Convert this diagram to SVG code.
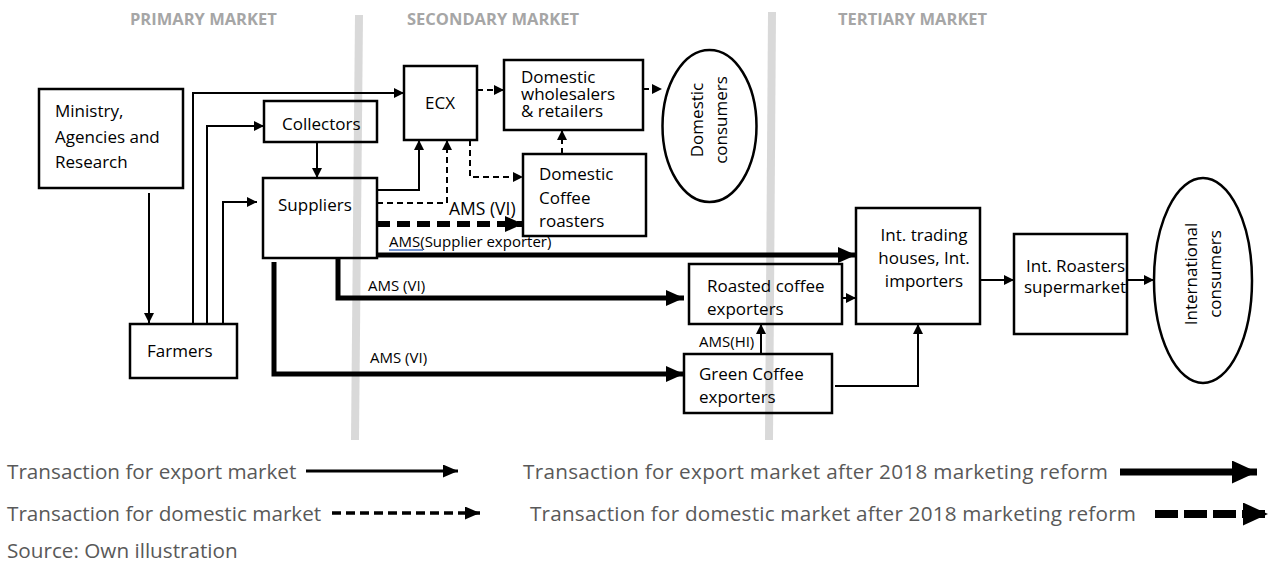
<svg xmlns="http://www.w3.org/2000/svg" width="1283" height="573" viewBox="0 0 1283 573">
<style>
text{font-family:"Open Sans","Noto Sans","Liberation Sans",sans-serif;fill:#000}
.n{font-size:17px}
.s{font-size:15px}
.h{font-size:16.5px;font-weight:bold;fill:#a6a6a6}
.lg{font-size:20.7px;fill:#595959}
.box{fill:none;stroke:#000;stroke-width:2.5}
.c{fill:none;stroke:#000;stroke-width:2}
.d{fill:none;stroke:#000;stroke-width:2;stroke-dasharray:6 4}
.t{fill:none;stroke:#000;stroke-width:5}
.td{fill:none;stroke:#000;stroke-width:6;stroke-dasharray:13 7}
.g{stroke:#d9d9d9;stroke-width:8}
</style>
<defs>
<marker id="a" markerUnits="userSpaceOnUse" markerWidth="11" markerHeight="11" refX="10" refY="5" orient="auto"><path d="M0,0L10,5L0,10z" fill="#000"/></marker>
<marker id="A" markerUnits="userSpaceOnUse" markerWidth="19" markerHeight="17" refX="18" refY="8" orient="auto"><path d="M0,0L18,8L0,16z" fill="#000"/></marker>
<marker id="la" markerUnits="userSpaceOnUse" markerWidth="16" markerHeight="14" refX="15" refY="6.5" orient="auto"><path d="M0,0L15,6.5L0,13z" fill="#000"/></marker>
<marker id="LA" markerUnits="userSpaceOnUse" markerWidth="26" markerHeight="24" refX="25" refY="11.5" orient="auto"><path d="M0,0L25,11.5L0,23z" fill="#000"/></marker>
</defs>
<g id="dividers">
<line class="g" x1="359" y1="15" x2="355" y2="440"/>
<line class="g" x1="772" y1="12" x2="769" y2="440"/>
</g>
<g id="headers">
<text class="h" x="130" y="25">PRIMARY MARKET</text>
<text class="h" x="407" y="25">SECONDARY MARKET</text>
<text class="h" x="838" y="25">TERTIARY MARKET</text>
</g>
<g id="connectors">
<path class="c" d="M149,193V323" marker-end="url(#a)"/>
<path class="c" d="M193,324V93H404" marker-end="url(#a)"/>
<path class="c" d="M207,324V126H264" marker-end="url(#a)"/>
<path class="c" d="M223,324V202H257" marker-end="url(#a)"/>
<path class="c" d="M317,142V178" marker-end="url(#a)"/>
<path class="c" d="M377,190H419V140" marker-end="url(#a)"/>
<path class="d" d="M377,203H447V140" marker-end="url(#a)"/>
<path class="d" d="M477,90H504" marker-end="url(#a)"/>
<path class="d" d="M643,89H662" marker-end="url(#a)"/>
<path class="d" d="M470,140V177H523" marker-end="url(#a)"/>
<path class="d" d="M562,154V130" marker-end="url(#a)"/>
<path class="td" d="M377,224H523" marker-end="url(#A)"/>
<path class="t" d="M377,255H856" marker-end="url(#A)"/>
<path class="t" d="M338,258V298H684" marker-end="url(#A)"/>
<path class="t" d="M274,262V374H684" marker-end="url(#A)"/>
<path class="c" d="M842,298H856" marker-end="url(#a)"/>
<path class="c" d="M761,354V324" marker-end="url(#a)"/>
<path class="c" d="M835,386H918V324" marker-end="url(#a)"/>
<path class="c" d="M980,280H1014" marker-end="url(#a)"/>
<path class="c" d="M1127,280H1154" marker-end="url(#a)"/>
<text class="n" x="449" y="215" style="font-size:17.5px">AMS (VI)</text>
<text class="s" x="389" y="247">AMS(Supplier exporter)</text>
<line x1="389" y1="250" x2="423" y2="250" stroke="#4472c4" stroke-width="1.5"/>
<text class="s" x="368" y="291">AMS (VI)</text>
<text class="s" x="370" y="363">AMS (VI)</text>
<text class="s" x="699" y="347">AMS(HI)</text>
</g>
<g id="ministry">
<rect class="box" x="39" y="89" width="144" height="99"/>
<text class="n" x="55" y="117">Ministry,</text>
<text class="n" x="55" y="143">Agencies and</text>
<text class="n" x="55" y="168">Research</text>
</g>
<g id="farmers">
<rect class="box" x="130" y="324" width="107" height="54"/>
<text class="n" x="147" y="357">Farmers</text>
</g>
<g id="collectors">
<rect class="box" x="264" y="101" width="113" height="41"/>
<text class="n" x="282" y="130">Collectors</text>
</g>
<g id="suppliers">
<rect class="box" x="263" y="178" width="114" height="80"/>
<text class="n" x="278" y="211">Suppliers</text>
</g>
<g id="ecx">
<rect class="box" x="404" y="66" width="73" height="74"/>
<text class="n" x="425" y="109">ECX</text>
</g>
<g id="domestic-wholesalers">
<rect class="box" x="504" y="60" width="139" height="70"/>
<text class="n" x="521" y="83">Domestic</text>
<text class="n" x="521" y="100">wholesalers</text>
<text class="n" x="521" y="117">&amp; retailers</text>
</g>
<g id="domestic-roasters">
<rect class="box" x="523" y="154" width="123" height="82"/>
<text class="n" x="539" y="180">Domestic</text>
<text class="n" x="539" y="204">Coffee</text>
<text class="n" x="539" y="227">roasters</text>
</g>
<g id="domestic-consumers">
<ellipse class="box" cx="709.5" cy="126" rx="47" ry="76"/>
<text class="n" text-anchor="middle" transform="translate(703,120) rotate(-90)">Domestic</text>
<text class="n" text-anchor="middle" transform="translate(727,120) rotate(-90)">consumers</text>
</g>
<g id="roasted-exporters">
<rect class="box" x="689" y="264" width="153" height="60"/>
<text class="n" x="707" y="292">Roasted coffee</text>
<text class="n" x="707" y="315">exporters</text>
</g>
<g id="green-exporters">
<rect class="box" x="684" y="354" width="148" height="59"/>
<text class="n" x="699" y="380">Green Coffee</text>
<text class="n" x="699" y="403">exporters</text>
</g>
<g id="int-trading">
<rect class="box" x="856" y="208" width="124" height="116"/>
<text class="n" text-anchor="middle" x="924" y="241">Int. trading</text>
<text class="n" text-anchor="middle" x="924" y="264">houses, Int.</text>
<text class="n" text-anchor="middle" x="924" y="287">importers</text>
</g>
<g id="int-roasters">
<rect class="box" x="1014" y="234" width="113" height="100"/>
<text class="n" x="1026" y="272">Int. Roasters</text>
<text class="n" x="1024" y="293">supermarket</text>
</g>
<g id="international-consumers">
<ellipse class="box" cx="1203" cy="280.5" rx="49" ry="102.5"/>
<text class="n" text-anchor="middle" transform="translate(1197,274) rotate(-90)">International</text>
<text class="n" text-anchor="middle" transform="translate(1221,274) rotate(-90)">consumers</text>
</g>
<g id="legend">
<text class="lg" x="7" y="479">Transaction for export market</text>
<path d="M306,471H458" fill="none" stroke="#000" stroke-width="3" marker-end="url(#la)"/>
<text class="lg" x="7" y="521">Transaction for domestic market</text>
<path d="M332,513H480" fill="none" stroke="#000" stroke-width="3.5" stroke-dasharray="9 5" marker-end="url(#la)"/>
<text class="lg" x="523" y="479" textLength="585" lengthAdjust="spacing">Transaction for export market after 2018 marketing reform</text>
<path d="M1120,472H1257" fill="none" stroke="#000" stroke-width="7" marker-end="url(#LA)"/>
<text class="lg" x="530" y="521" textLength="606" lengthAdjust="spacing">Transaction for domestic market after 2018 marketing reform</text>
<path d="M1155,514H1268" fill="none" stroke="#000" stroke-width="8" stroke-dasharray="23 6" marker-end="url(#LA)"/>
<text class="lg" x="7" y="558">Source: Own illustration</text>
</g>
</svg>
